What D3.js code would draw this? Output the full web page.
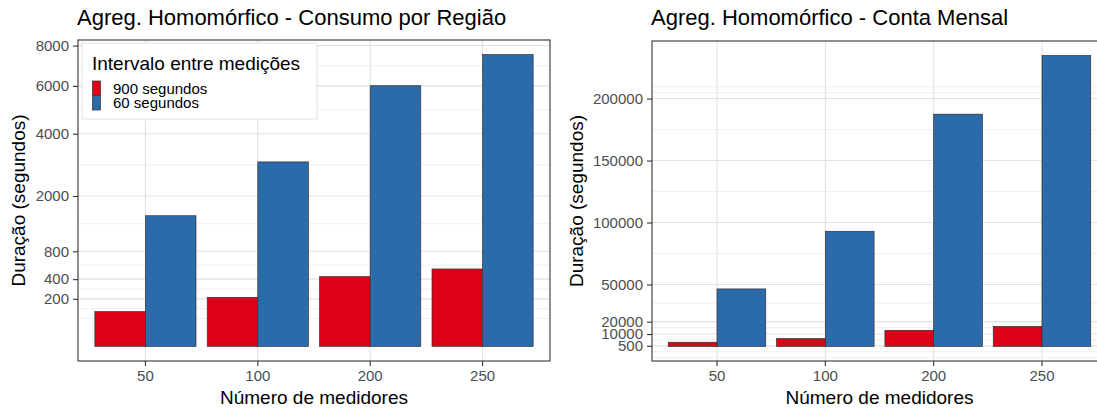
<!DOCTYPE html>
<html>
<head>
<meta charset="utf-8">
<script src="https://cdn.jsdelivr.net/npm/d3@7"></script>
<style>
  html, body { margin: 0; padding: 0; background: #ffffff; }
  svg { display: block; font-family: "Liberation Sans", Arial, Helvetica, sans-serif; }
</style>
</head>
<body>
<svg id="chart" width="1097" height="410"></svg>
<script>
// Categories and series
const categories = ["50", "100", "200", "250"];
const seriesNames = ["900 segundos", "60 segundos"];
const seriesColors = ["#DC0019", "#2C6BA9"];

// Consumo por Região (seconds)
const regiao900 = [107, 213, 430, 530];
const regiao60 = [1510, 3010, 6010, 7530];

// Conta Mensal (seconds)
const mensal900 = [3400, 6300, 13000, 16200];
const mensal60 = [46400, 92900, 187400, 234700];

// Axis breaks
const regiaoTicks = [200, 400, 800, 2000, 4000, 6000, 8000];
const mensalTicks = [500, 10000, 20000, 50000, 100000, 150000, 200000];

const svg = d3.select("#chart");

// Minor breaks placed halfway between major breaks in transformed space,
// extended by one step below/above the majors when the data range goes past them.
function minorBreaks(majors, fwd, inv, lo, hi) {
  let b = majors.map(fwd);
  const bd = b[1] - b[0];
  if (fwd(lo) < b[0]) b = [b[0] - bd].concat(b);
  if (fwd(hi) > b[b.length - 1]) b = b.concat([b[b.length - 1] + bd]);
  const out = [];
  for (let i = 0; i < b.length - 1; i++) {
    out.push(b[i], (b[i] + b[i + 1]) / 2);
  }
  out.push(b[b.length - 1]);
  const majT = majors.map(fwd);
  return out.filter(v => !majT.some(m => Math.abs(m - v) < 1e-9)).map(inv);
}

function drawPanel(cfg) {
  const { left, right, top, bottom, title, values, ticks, yScaleType } = cfg;
  const H = bottom - top;
  const pad = H * 0.05 / 1.1;
  const maxVal = d3.max(values.flat());

  const x = d3.scaleBand().domain(categories).range([left, right])
    .paddingInner(0.1).paddingOuter(0.15);
  const xs = d3.scaleBand().domain(seriesNames).range([0, x.bandwidth()]);

  const y = (yScaleType === "sqrt" ? d3.scaleSqrt() : d3.scaleLinear())
    .domain([0, maxVal]).range([bottom - pad, top + pad]);

  const sgnSqrt = v => v < 0 ? -Math.sqrt(-v) : Math.sqrt(v);
  const sgnSq = v => v < 0 ? -(v * v) : v * v;
  const fwd = yScaleType === "sqrt" ? sgnSqrt : (v => v);
  const inv = yScaleType === "sqrt" ? sgnSq : (v => v);
  const minors = minorBreaks(ticks, fwd, inv, 0, maxVal);

  const clipId = "clip-" + cfg.id;
  svg.append("clipPath").attr("id", clipId)
    .append("rect").attr("x", left).attr("y", top)
    .attr("width", right - left).attr("height", bottom - top);

  const g = svg.append("g");
  const grid = g.append("g").attr("clip-path", `url(#${clipId})`);

  // panel background
  grid.append("rect").attr("x", left).attr("y", top)
    .attr("width", right - left).attr("height", bottom - top).attr("fill", "#ffffff");

  // minor horizontal grid
  grid.selectAll("line.minor").data(minors).join("line")
    .attr("class", "minor")
    .attr("x1", left).attr("x2", right)
    .attr("y1", d => y(d)).attr("y2", d => y(d))
    .attr("stroke", "#ebebeb").attr("stroke-width", 0.8);

  // major horizontal grid
  grid.selectAll("line.hmajor").data(ticks).join("line")
    .attr("class", "hmajor")
    .attr("x1", left).attr("x2", right)
    .attr("y1", d => y(d)).attr("y2", d => y(d))
    .attr("stroke", "#e2e2e2").attr("stroke-width", 1.1);

  // major vertical grid at category centres
  grid.selectAll("line.vmajor").data(categories).join("line")
    .attr("class", "vmajor")
    .attr("x1", d => x(d) + x.bandwidth() / 2).attr("x2", d => x(d) + x.bandwidth() / 2)
    .attr("y1", top).attr("y2", bottom)
    .attr("stroke", "#e2e2e2").attr("stroke-width", 1.1);

  // bars
  const rows = [];
  categories.forEach((c, i) => {
    seriesNames.forEach((s, j) => rows.push({ c, s, v: values[j][i], color: seriesColors[j] }));
  });
  grid.selectAll("rect.bar").data(rows).join("rect")
    .attr("class", "bar")
    .attr("x", d => x(d.c) + xs(d.s))
    .attr("width", xs.bandwidth())
    .attr("y", d => y(d.v))
    .attr("height", d => y(0) - y(d.v))
    .attr("fill", d => d.color)
    .attr("stroke", "#333333").attr("stroke-width", 0.7);

  // panel border
  g.append("rect").attr("x", left).attr("y", top)
    .attr("width", right - left).attr("height", bottom - top)
    .attr("fill", "none").attr("stroke", "#333333").attr("stroke-width", 1.1);

  // y axis
  const yAxis = g.append("g").attr("transform", `translate(${left},0)`)
    .call(d3.axisLeft(y).tickValues(ticks).tickFormat(d3.format("d"))
      .tickSizeOuter(0).tickSizeInner(5).tickPadding(4));
  yAxis.select(".domain").remove();
  yAxis.selectAll(".tick line").attr("stroke", "#333333").attr("stroke-width", 1.1);
  yAxis.selectAll(".tick text").attr("fill", "#4d4d4d").style("font-size", "15px")
    .attr("font-family", null);

  // x axis
  const xAxis = g.append("g").attr("transform", `translate(0,${bottom})`)
    .call(d3.axisBottom(x).tickSizeOuter(0).tickSizeInner(5).tickPadding(4));
  xAxis.select(".domain").remove();
  xAxis.selectAll(".tick line").attr("stroke", "#333333").attr("stroke-width", 1.1);
  xAxis.selectAll(".tick text").attr("fill", "#4d4d4d").style("font-size", "15px")
    .attr("font-family", null);

  // titles
  g.append("text").attr("x", left - 1).attr("y", 25)
    .style("font-size", "22px").attr("fill", "#000")
    .text(title);

  g.append("text")
    .attr("x", (left + Math.min(right, 1400)) / 2).attr("y", 404)
    .attr("text-anchor", "middle").style("font-size", "19px").attr("fill", "#000")
    .text("Número de medidores");

  g.append("text")
    .attr("transform", `translate(${cfg.yTitleX},${(top + bottom) / 2}) rotate(-90)`)
    .attr("text-anchor", "middle").style("font-size", "19px").attr("fill", "#000")
    .text("Duração (segundos)");

  return { x, y };
}

drawPanel({
  id: "regiao",
  left: 78, right: 550, top: 40, bottom: 361,
  title: "Agreg. Homomórfico - Consumo por Região",
  values: [regiao900, regiao60],
  ticks: regiaoTicks,
  yScaleType: "sqrt",
  yTitleX: 25
});

drawPanel({
  id: "mensal",
  left: 652, right: 1107, top: 41, bottom: 361,
  title: "Agreg. Homomórfico - Conta Mensal",
  values: [mensal900, mensal60],
  ticks: mensalTicks,
  yScaleType: "linear",
  yTitleX: 583
});

// legend inside the left panel
const legend = svg.append("g");
legend.append("rect").attr("x", 82).attr("y", 43).attr("width", 235).attr("height", 76)
  .attr("fill", "#ffffff").attr("stroke", "#d9d9d9").attr("stroke-width", 0.8);
legend.append("text").attr("x", 92).attr("y", 70)
  .style("font-size", "19px").attr("fill", "#000").text("Intervalo entre medições");
const keyY = d3.scaleBand().domain(seriesNames).range([81, 110]);
seriesNames.forEach((s, i) => {
  legend.append("rect").attr("x", 92.5).attr("y", keyY(s))
    .attr("width", 8).attr("height", keyY.bandwidth())
    .attr("fill", seriesColors[i]).attr("stroke", "#333333").attr("stroke-width", 0.7);
  legend.append("text").attr("x", 113).attr("y", keyY(s) + keyY.bandwidth() / 2)
    .attr("dy", "0.35em").style("font-size", "15px").attr("fill", "#000").text(s);
});
</script>
</body>
</html>
